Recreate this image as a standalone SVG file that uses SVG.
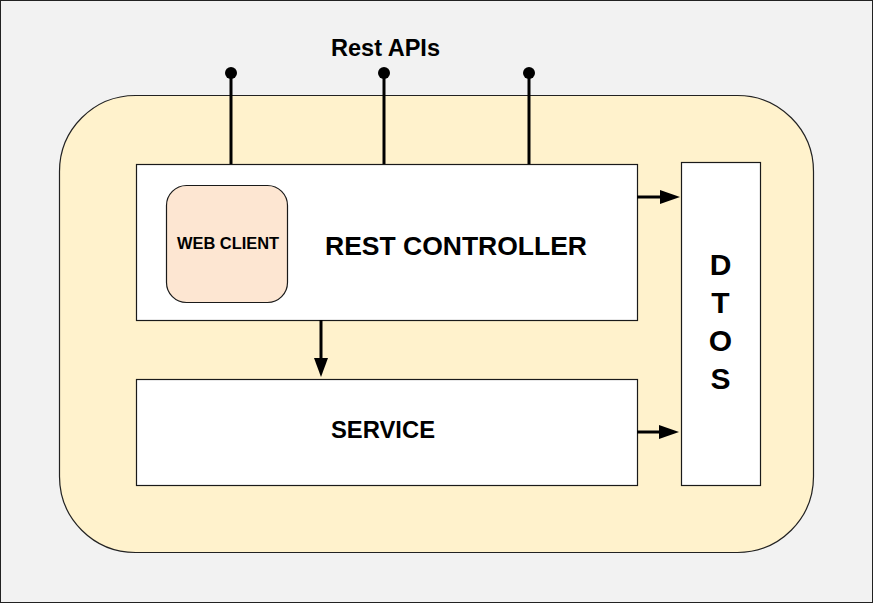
<svg xmlns="http://www.w3.org/2000/svg" width="873" height="603" viewBox="0 0 873 603">
<defs>
<style>
.box{fill:#ffffff;stroke:#1a1a1a;stroke-width:1.2}
.t{font-family:"Liberation Sans",Arial,sans-serif;font-weight:bold;fill:#000;text-anchor:middle}
.ln{stroke:#000;stroke-width:3;fill:none}
</style>
</defs>
<rect x="0.5" y="0.5" width="872" height="602" fill="#f2f2f2" stroke="#222" stroke-width="1"/>
<g id="container">
<rect x="59.5" y="95.5" width="754" height="457" rx="76" ry="76" fill="#fff2cc" stroke="#222" stroke-width="1.2"/>
</g>
<g id="rest-controller">
<rect class="box" x="136.5" y="164.5" width="501" height="156"/>
<text class="t" x="456" y="255" font-size="26.5" textLength="262" lengthAdjust="spacingAndGlyphs">REST CONTROLLER</text>
</g>
<g id="web-client">
<rect x="166.5" y="185.5" width="121" height="117" rx="20" ry="20" fill="#fde6d2" stroke="#1a1a1a" stroke-width="1.2"/>
<text class="t" x="228" y="249" font-size="16" textLength="102" lengthAdjust="spacingAndGlyphs">WEB CLIENT</text>
</g>
<g id="service">
<rect class="box" x="136.5" y="379.5" width="501" height="106"/>
<text class="t" x="383" y="438" font-size="23.5" textLength="104" lengthAdjust="spacingAndGlyphs">SERVICE</text>
</g>
<g id="dtos">
<rect class="box" x="681.5" y="162.5" width="79" height="323"/>
<text class="t" x="720.5" y="275" font-size="30">D</text>
<text class="t" x="720.5" y="313" font-size="30">T</text>
<text class="t" x="720.5" y="351" font-size="30">O</text>
<text class="t" x="720.5" y="389" font-size="30">S</text>
</g>
<g id="rest-apis">
<text class="t" x="385.5" y="56" font-size="23" textLength="109" lengthAdjust="spacingAndGlyphs">Rest APIs</text>
</g>
<g id="connectors">
<line class="ln" x1="231" y1="73" x2="231" y2="164"/>
<circle cx="231" cy="73" r="6" fill="#000"/>
<line class="ln" x1="384" y1="73" x2="384" y2="164"/>
<circle cx="384" cy="73" r="6" fill="#000"/>
<line class="ln" x1="529" y1="73" x2="529" y2="164"/>
<circle cx="529" cy="73" r="6" fill="#000"/>
<line class="ln" x1="637" y1="197" x2="662" y2="197"/>
<polygon points="660,190 680,197 660,204" fill="#000"/>
<line class="ln" x1="637" y1="432" x2="662" y2="432"/>
<polygon points="659,425 679,432 659,439" fill="#000"/>
<line class="ln" x1="321" y1="320" x2="321" y2="360"/>
<polygon points="314,358 321,377 328,358" fill="#000"/>
</g>
</svg>
